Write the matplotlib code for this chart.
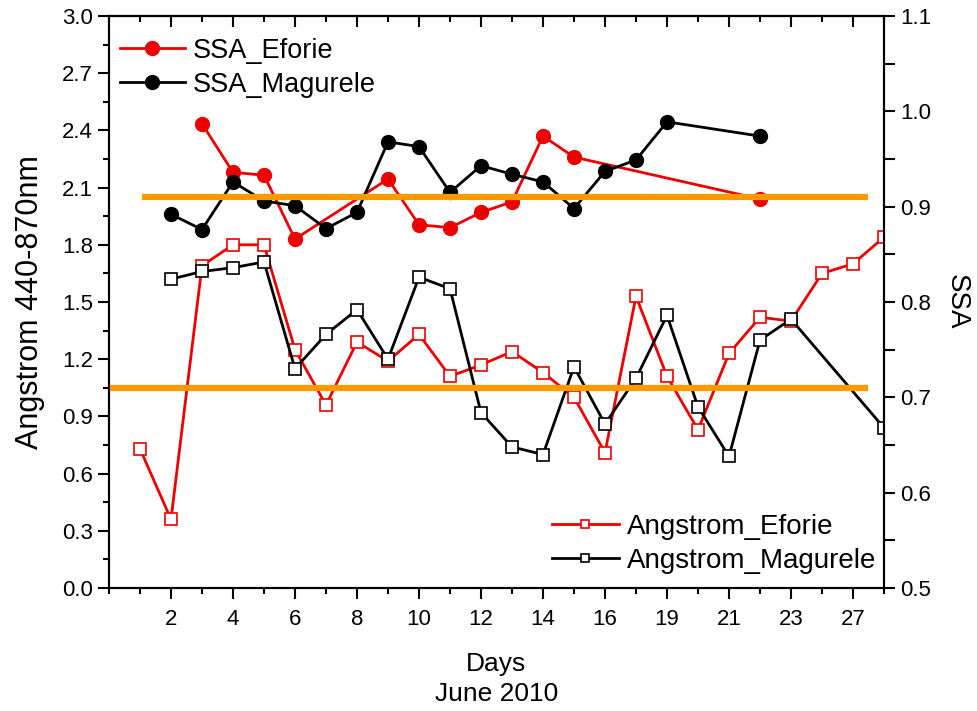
import numpy as np
import pandas as pd
import matplotlib
matplotlib.use('Agg')
import matplotlib.pyplot as plt
from matplotlib.ticker import MultipleLocator, FixedLocator

plt.rcParams['font.family'] = ['Liberation Sans', 'DejaVu Sans']

# measurement slots along the day axis (one per sampled day)
positions = list(range(1, 26))
major_positions = list(range(2, 25, 2))
day_labels = ['2', '4', '6', '8', '10', '12', '14', '16', '19', '21', '23', '27']

nan = np.nan
angstrom_eforie = [0.73, 0.36, 1.69, 1.80, 1.80, 1.25, 0.96, 1.29, 1.19, 1.33, 1.11, 1.17, 1.24,
                   1.13, 1.00, 0.71, 1.53, 1.11, 0.83, 1.23, 1.42, 1.40, 1.65, 1.70, 1.84]
angstrom_magurele = [nan, 1.62, 1.66, 1.68, 1.71, 1.15, 1.33, 1.46, 1.20, 1.63, 1.57, 0.92, 0.74,
                     0.70, 1.16, 0.86, 1.10, 1.43, 0.95, 0.69, 1.30, 1.41, nan, nan, 0.84]
ssa_eforie = [nan, nan, 0.987, 0.936, 0.933, 0.866, nan, nan, 0.929, 0.881, 0.878, 0.894, 0.905,
              0.974, 0.952, nan, nan, nan, nan, nan, 0.908, nan, nan, nan, nan]
ssa_magurele = [nan, 0.892, 0.876, 0.926, 0.906, 0.901, 0.877, 0.894, 0.968, 0.963, 0.915, 0.943, 0.934,
                0.926, 0.898, 0.937, 0.949, 0.989, nan, nan, 0.974, nan, nan, nan, nan]

# reference levels, SSA units
ssa_levels = [0.91, 0.71]

RED = '#ee0000'
ORANGE = '#ff9900'


def series(values):
    s = pd.Series(values, index=positions).dropna()
    return s.index.values, s.values


fig = plt.figure(figsize=(9.77, 7.11), dpi=100)
ax = fig.add_axes([109 / 977, 1 - 588 / 711, 775 / 977, 572 / 711])
ax2 = ax.twinx()

x, y = series(angstrom_eforie)
l_ae, = ax.plot(x, y, color=RED, lw=2.0, marker='s', ms=8.5, mfc='white', mec=RED, mew=1.2,
                label='Angstrom_Eforie')
x, y = series(angstrom_magurele)
l_am, = ax.plot(x, y, color='black', lw=2.0, marker='s', ms=8.5, mfc='white', mec='black', mew=1.2,
                label='Angstrom_Magurele')

x, y = series(ssa_eforie)
l_se, = ax2.plot(x, y, color=RED, lw=2.0, marker='o', ms=10, mfc=RED, mec=RED,
                 label='SSA_Eforie')
x, y = series(ssa_magurele)
l_sm, = ax2.plot(x, y, color='black', lw=2.0, marker='o', ms=10, mfc='black', mec='black',
                 label='SSA_Magurele')

ax2.axhline(ssa_levels[0], xmin=0.046, xmax=0.975, color=ORANGE, lw=4.5, zorder=5)
ax2.axhline(ssa_levels[1], xmin=0.005, xmax=0.975, color=ORANGE, lw=4.5, zorder=5)

ax.set_xlim(0, 25)
ax.set_ylim(0, 3.0)
ax2.set_ylim(0.5, 1.1)

ax.xaxis.set_major_locator(FixedLocator(major_positions))
ax.set_xticklabels(day_labels)
ax.xaxis.set_minor_locator(MultipleLocator(1))
ax.yaxis.set_major_locator(MultipleLocator(0.3))
ax.yaxis.set_minor_locator(MultipleLocator(0.15))
ax.set_yticklabels([f'{v:.1f}' for v in ax.get_yticks()])
ax2.yaxis.set_major_locator(MultipleLocator(0.1))
ax2.yaxis.set_minor_locator(MultipleLocator(0.05))

for a in (ax, ax2):
    for sp in a.spines.values():
        sp.set_linewidth(1.5)

ax.tick_params(axis='both', which='major', direction='out', length=8, width=1.5, labelsize=16)
ax.tick_params(axis='both', which='minor', direction='out', length=4.5, width=1.5)
ax.tick_params(axis='x', which='major', pad=7)
ax2.tick_params(axis='y', which='major', direction='out', length=8, width=1.5, labelsize=16)
ax2.tick_params(axis='y', which='minor', direction='out', length=8, width=1.5)

# inward ticks along the top edge
top = ax.secondary_xaxis('top')
top.xaxis.set_major_locator(FixedLocator(major_positions))
top.xaxis.set_minor_locator(MultipleLocator(1))
top.tick_params(which='major', direction='in', length=8, width=1.5, labeltop=False)
top.tick_params(which='minor', direction='in', length=4.5, width=1.5)
top.spines['top'].set_linewidth(1.5)

ax.set_ylabel('Angstrom 440-870nm', fontsize=22, labelpad=12)
ax2.set_ylabel('SSA', fontsize=20, rotation=270, labelpad=28)
ax.set_xlabel('Days\nJune 2010', fontsize=19, labelpad=16, linespacing=1.3)

leg1 = ax2.legend(handles=[l_se, l_sm], loc='upper left', bbox_to_anchor=(0.0, 0.981),
                  fontsize=19.5, frameon=False, handlelength=2.4, handletextpad=0.3,
                  labelspacing=0.3, borderaxespad=0.0)
ax2.add_artist(leg1)
ax2.legend(handles=[l_ae, l_am], loc='lower right', bbox_to_anchor=(1.008, 0.0),
           fontsize=20, frameon=False, handlelength=2.4, handletextpad=0.3,
           labelspacing=0.3, borderaxespad=0.1, markerscale=0.6)

fig.savefig('out.png', dpi=100)
